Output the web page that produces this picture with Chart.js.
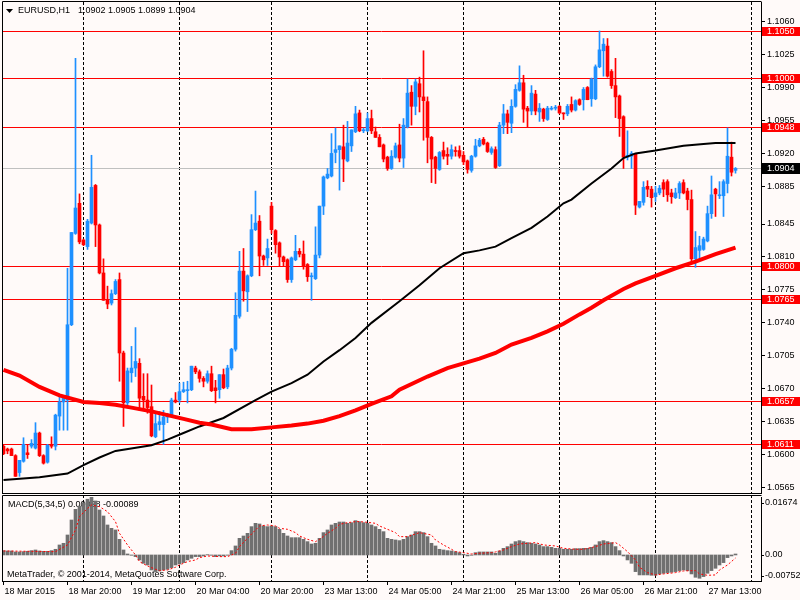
<!DOCTYPE html>
<html>
<head>
<meta charset="utf-8">
<script src="https://cdn.jsdelivr.net/npm/chart.js@4/dist/chart.umd.min.js"></script>
<style>
    html, body { margin: 0; padding: 0; background: #fffaf9; }
    #wrap { position: relative; width: 800px; height: 600px; overflow: hidden; }
    canvas { position: absolute; left: 0; }
    #main { top: 0; }
    #macd { top: 494px; }
</style>
</head>
<body>
<div id="wrap">
    <canvas id="main" width="800" height="494"></canvas>
    <canvas id="macd" width="800" height="106"></canvas>
</div>
<script>
// EURUSD H1, 184 bars (18 Mar 04:00 .. 27 Mar 16:00)
const open = [
    1.0609,1.0606,1.0606,1.0599,1.0581,1.0593,1.0602,1.0609,1.0607,1.0623,
    1.0599,1.0592,1.0610,1.0609,1.0641,1.0656,1.0658,1.0738,1.0835,1.0867,
    1.0828,1.0821,1.0846,1.0886,1.0844,1.0793,1.0765,1.0761,1.0771,1.0786,
    1.0708,1.0655,1.0687,1.0692,1.0697,1.0662,1.0658,1.0651,1.0619,1.0632,
    1.0632,1.0640,1.0642,1.0658,1.0658,1.0667,1.0668,1.0669,1.0692,1.0688,
    1.0681,1.0678,1.0686,1.0671,1.0669,1.0685,1.0672,1.0692,1.0712,1.0747,
    1.0795,1.0773,1.0790,1.0839,1.0848,1.0811,1.0809,1.0864,1.0838,1.0825,
    1.0810,1.0807,1.0786,1.0807,1.0816,1.0813,1.0802,1.0789,1.0787,1.0812,
    1.0864,1.0894,1.0896,1.0921,1.0924,1.0927,1.0912,1.0928,1.0943,1.0963,
    1.0944,1.0944,1.0957,1.0943,1.0937,1.0929,1.0916,1.0904,1.0916,1.0929,
    1.0915,1.0948,1.0985,1.0970,1.0994,1.0980,1.0975,1.0937,1.0916,1.0903,
    1.0923,1.0919,1.0917,1.0923,1.0923,1.0918,1.0912,1.0902,1.0917,1.0928,
    1.0935,1.0931,1.0921,1.0924,1.0907,1.0950,1.0962,1.0952,1.0970,1.0987,
    1.0995,1.0968,1.0965,1.0983,1.0964,1.0967,1.0956,1.0967,1.0968,1.0970,
    1.0963,1.0962,1.0972,1.0966,1.0977,1.0977,1.0990,1.0978,1.0978,1.1012,
    1.1029,1.1034,1.1007,1.0992,1.0981,1.0959,1.0916,1.0917,1.0919,1.0863,
    1.0868,1.0885,1.0882,1.0874,1.0878,1.0889,1.0890,1.0878,1.0873,1.0878,
    1.0889,1.0880,1.0871,1.0808,1.0817,1.0818,1.0827,1.0856,1.0882,1.0875,
    1.0875,1.0888,1.0916,1.0902
];
const high = [
    1.0610,1.0607,1.0607,1.0600,1.0594,1.0618,1.0610,1.0616,1.0634,1.0624,
    1.0600,1.0611,1.0619,1.0643,1.0663,1.0661,1.0798,1.0836,1.1021,1.0877,
    1.0829,1.0850,1.0918,1.0887,1.0845,1.0808,1.0779,1.0775,1.0786,1.0793,
    1.0710,1.0692,1.0715,1.0735,1.0702,1.0686,1.0686,1.0674,1.0646,1.0646,
    1.0647,1.0644,1.0660,1.0666,1.0676,1.0677,1.0678,1.0694,1.0694,1.0690,
    1.0683,1.0689,1.0694,1.0679,1.0685,1.0691,1.0695,1.0713,1.0772,1.0816,
    1.0819,1.0791,1.0855,1.0880,1.0854,1.0812,1.0829,1.0868,1.0839,1.0826,
    1.0811,1.0808,1.0810,1.0833,1.0819,1.0827,1.0803,1.0793,1.0842,1.0864,
    1.0896,1.0904,1.0941,1.0947,1.0928,1.0950,1.0954,1.0945,1.0970,1.0966,
    1.0947,1.0963,1.0966,1.0948,1.0940,1.0930,1.0917,1.0923,1.0931,1.0951,
    1.0957,1.0999,1.0992,1.0999,1.1001,1.1029,1.0980,1.0938,1.0917,1.0922,
    1.0932,1.0926,1.0929,1.0927,1.0928,1.0922,1.0913,1.0918,1.0935,1.0936,
    1.0937,1.0932,1.0927,1.0927,1.0953,1.0972,1.0966,1.0977,1.0993,1.1013,
    1.1003,1.0970,1.0992,1.0987,1.0973,1.0968,1.0970,1.0970,1.0971,1.0971,
    1.0963,1.0972,1.0980,1.0977,1.0978,1.0990,1.0991,1.1000,1.1014,1.1050,
    1.1042,1.1042,1.1009,1.1021,1.0982,1.0960,1.0944,1.0922,1.0920,1.0869,
    1.0890,1.0891,1.0885,1.0885,1.0886,1.0892,1.0892,1.0882,1.0883,1.0890,
    1.0892,1.0883,1.0881,1.0837,1.0832,1.0831,1.0864,1.0896,1.0883,1.0890,
    1.0892,1.0947,1.0932,1.0905
];
const low = [
    1.0600,1.0601,1.0599,1.0577,1.0577,1.0592,1.0596,1.0607,1.0606,1.0598,
    1.0590,1.0591,1.0607,1.0605,1.0626,1.0626,1.0626,1.0737,1.0834,1.0824,
    1.0822,1.0818,1.0845,1.0821,1.0792,1.0764,1.0755,1.0759,1.0770,1.0678,
    1.0630,1.0650,1.0677,1.0683,1.0647,1.0647,1.0644,1.0619,1.0618,1.0626,
    1.0611,1.0634,1.0641,1.0655,1.0655,1.0666,1.0655,1.0668,1.0686,1.0677,
    1.0672,1.0676,1.0667,1.0655,1.0660,1.0670,1.0670,1.0690,1.0710,1.0745,
    1.0763,1.0752,1.0789,1.0838,1.0790,1.0801,1.0801,1.0835,1.0814,1.0800,
    1.0800,1.0783,1.0783,1.0806,1.0810,1.0797,1.0784,1.0764,1.0786,1.0809,
    1.0855,1.0893,1.0895,1.0910,1.0881,1.0890,1.0911,1.0922,1.0942,1.0943,
    1.0942,1.0943,1.0941,1.0937,1.0927,1.0911,1.0902,1.0903,1.0915,1.0911,
    1.0905,1.0947,1.0950,1.0961,1.0964,1.0934,1.0910,1.0889,1.0888,1.0902,
    1.0914,1.0908,1.0914,1.0917,1.0915,1.0908,1.0899,1.0900,1.0916,1.0927,
    1.0929,1.0921,1.0919,1.0904,1.0906,1.0941,1.0941,1.0942,1.0969,1.0986,
    1.0953,1.0948,1.0961,1.0961,1.0954,1.0954,1.0955,1.0966,1.0966,1.0962,
    1.0956,1.0960,1.0964,1.0965,1.0971,1.0966,1.0977,1.0970,1.0977,1.1011,
    1.1002,1.1001,1.0989,1.0958,1.0938,1.0904,1.0913,1.0904,1.0855,1.0862,
    1.0865,1.0874,1.0863,1.0869,1.0876,1.0874,1.0869,1.0867,1.0872,1.0872,
    1.0877,1.0860,1.0805,1.0799,1.0807,1.0817,1.0826,1.0851,1.0853,1.0872,
    1.0853,1.0878,1.0896,1.0899
];
const close = [
    1.0601,1.0604,1.0599,1.0577,1.0594,1.0611,1.0600,1.0612,1.0623,1.0599,
    1.0591,1.0610,1.0609,1.0642,1.0656,1.0660,1.0738,1.0836,1.0862,1.0826,
    1.0823,1.0848,1.0884,1.0844,1.0793,1.0764,1.0760,1.0771,1.0784,1.0708,
    1.0655,1.0689,1.0692,1.0699,1.0660,1.0658,1.0650,1.0620,1.0633,1.0635,
    1.0640,1.0643,1.0658,1.0656,1.0667,1.0669,1.0669,1.0694,1.0688,1.0681,
    1.0678,1.0686,1.0668,1.0668,1.0685,1.0671,1.0692,1.0712,1.0748,1.0795,
    1.0774,1.0790,1.0839,1.0846,1.0811,1.0807,1.0819,1.0839,1.0823,1.0810,
    1.0805,1.0786,1.0809,1.0816,1.0813,1.0800,1.0789,1.0790,1.0812,1.0864,
    1.0895,1.0898,1.0920,1.0924,1.0928,1.0914,1.0931,1.0945,1.0962,1.0944,
    1.0945,1.0957,1.0944,1.0937,1.0927,1.0914,1.0904,1.0917,1.0928,1.0915,
    1.0950,1.0984,1.0970,1.0996,1.0980,1.0976,1.0937,1.0914,1.0904,1.0921,
    1.0917,1.0917,1.0924,1.0922,1.0917,1.0911,1.0903,1.0917,1.0928,1.0934,
    1.0930,1.0922,1.0925,1.0905,1.0950,1.0962,1.0953,1.0970,1.0988,1.0995,
    1.0967,1.0965,1.0984,1.0965,1.0968,1.0957,1.0968,1.0968,1.0969,1.0963,
    1.0962,1.0970,1.0966,1.0976,1.0972,1.0988,1.0977,1.0999,1.1012,1.1030,
    1.1036,1.1002,1.0992,1.0980,1.0957,1.0916,1.0918,1.0920,1.0865,1.0869,
    1.0884,1.0882,1.0873,1.0878,1.0883,1.0882,1.0876,1.0874,1.0878,1.0888,
    1.0878,1.0871,1.0808,1.0820,1.0822,1.0829,1.0856,1.0876,1.0877,1.0876,
    1.0890,1.0917,1.0900,1.0904
];

// moving averages, read at these bar indices
const blackMaBars = [0,9,16,20,24,28,37,41,45,49,55,63,67,72,76,80,84,88,92,99,104,109,115,119,123,127,132,136,140,142,147,152,155,158,163,170,175,178,183];
const blackMa = [1.0573,1.0576,1.0580,1.0589,1.0597,1.0604,1.0610,1.0616,1.0623,1.0630,1.0639,1.0658,1.0667,1.0676,1.0685,1.0699,1.0711,1.0724,1.0740,1.0763,1.0780,1.0798,1.0814,1.0817,1.0821,1.0830,1.0841,1.0853,1.0867,1.0871,1.0888,1.0904,1.0915,1.0920,1.0923,1.0928,1.0930,1.0931,1.0931];
const redMaBars = [0,4,9,14,20,24,28,32,37,41,45,49,52,57,62,67,72,76,80,84,88,92,97,99,106,111,115,119,123,127,132,136,140,144,147,150,155,158,163,168,173,178,183];
const redMa = [1.0690,1.0684,1.0672,1.0663,1.0656,1.0655,1.0653,1.0650,1.0646,1.0642,1.0638,1.0634,1.0632,1.0627,1.0627,1.0629,1.0631,1.0633,1.0636,1.0641,1.0647,1.0654,1.0662,1.0669,1.0683,1.0692,1.0697,1.0702,1.0708,1.0717,1.0724,1.0731,1.0739,1.0749,1.0756,1.0764,1.0776,1.0782,1.0790,1.0798,1.0805,1.0813,1.0820];

// MACD(5,34,5)
const macdHist = [
    0.00125,0.00115,0.00115,0.00087,0.00087,0.00096,0.00106,0.00125,0.00144,0.00115,
    0.00106,0.00106,0.00125,0.00164,0.00289,0.00337,0.00577,0.01010,0.01318,0.01414,
    0.01510,0.01610,0.01674,0.01560,0.01299,0.01126,0.00866,0.00770,0.00722,0.00452,
    0.00144,0.00029,-0.00010,-0.00048,-0.00144,-0.00241,-0.00289,-0.00433,-0.00481,-0.00462,
    -0.00433,-0.00414,-0.00366,-0.00289,-0.00260,-0.00221,-0.00144,-0.00096,-0.00048,-0.00048,
    -0.00029,0.00010,-0.00010,-0.00048,-0.00029,-0.00029,-0.00010,0.00125,0.00260,0.00481,
    0.00548,0.00625,0.00818,0.00914,0.00895,0.00837,0.00818,0.00837,0.00818,0.00741,
    0.00625,0.00548,0.00500,0.00500,0.00500,0.00452,0.00385,0.00317,0.00337,0.00481,
    0.00645,0.00722,0.00866,0.00914,0.00952,0.00952,0.00914,0.00933,0.00991,0.00962,
    0.00933,0.00914,0.00866,0.00818,0.00741,0.00673,0.00481,0.00452,0.00433,0.00414,
    0.00452,0.00529,0.00577,0.00673,0.00673,0.00645,0.00529,0.00337,0.00260,0.00164,
    0.00144,0.00125,0.00115,0.00096,0.00067,0.00019,-0.00029,-0.00010,0.00067,0.00087,
    0.00087,0.00087,0.00087,0.00048,0.00115,0.00192,0.00241,0.00317,0.00385,0.00414,
    0.00385,0.00356,0.00337,0.00317,0.00289,0.00241,0.00241,0.00221,0.00192,0.00192,
    0.00164,0.00164,0.00164,0.00183,0.00183,0.00192,0.00192,0.00221,0.00289,0.00385,
    0.00414,0.00385,0.00356,0.00241,0.00125,-0.00029,-0.00144,-0.00241,-0.00481,-0.00577,
    -0.00577,-0.00577,-0.00587,-0.00587,-0.00548,-0.00529,-0.00510,-0.00500,-0.00481,-0.00452,
    -0.00433,-0.00452,-0.00548,-0.00645,-0.00673,-0.00625,-0.00529,-0.00452,-0.00385,-0.00289,
    -0.00221,-0.00077,-0.00029,0.00028
];
const signalBars = [0,13,16,18,19,21,22,24,26,28,29,31,33,34,36,38,39,41,43,44,46,48,49,51,54,56,58,59,61,63,64,66,68,69,71,73,74,76,78,79,81,83,84,86,88,89,91,93,94,96,98,99,101,104,107,108,110,112,113,115,117,119,122,123,125,127,129,133,135,138,140,143,145,148,150,153,154,156,158,159,161,163,165,168,170,173,174,176,178,179,181,183];
const signal = [0.00115,0.00096,0.00289,0.00722,0.01106,0.01347,0.01443,0.01395,0.01251,0.00962,0.00625,0.00289,0.00000,-0.00192,-0.00317,-0.00414,-0.00452,-0.00433,-0.00356,-0.00289,-0.00192,-0.00144,-0.00077,-0.00029,-0.00048,-0.00048,0.00048,0.00241,0.00481,0.00722,0.00837,0.00866,0.00837,0.00770,0.00741,0.00645,0.00548,0.00452,0.00385,0.00452,0.00625,0.00770,0.00885,0.00933,0.00962,0.00962,0.00943,0.00914,0.00837,0.00741,0.00645,0.00529,0.00529,0.00645,0.00577,0.00433,0.00289,0.00164,0.00096,0.00067,0.00029,0.00048,0.00067,0.00087,0.00144,0.00241,0.00317,0.00356,0.00289,0.00260,0.00192,0.00164,0.00164,0.00241,0.00317,0.00356,0.00289,0.00096,-0.00144,-0.00356,-0.00510,-0.00577,-0.00548,-0.00510,-0.00462,-0.00452,-0.00548,-0.00587,-0.00577,-0.00433,-0.00289,-0.00089];

const priceTicks = [1.1060,1.1025,1.0990,1.0955,1.0920,1.0885,1.0845,1.0810,1.0775,1.0740,1.0705,1.0670,1.0635,1.0600,1.0565];
const levels = [1.1050,1.1000,1.0948,1.0800,1.0765,1.0657,1.0611];
const macdTicks = [0.01674, 0, -0.00752];
const timeLabels = ["18 Mar 2015","18 Mar 20:00","19 Mar 12:00","20 Mar 04:00","20 Mar 20:00","23 Mar 13:00","24 Mar 05:00","24 Mar 21:00","25 Mar 13:00","26 Mar 05:00","26 Mar 21:00","27 Mar 13:00"];
const labelBars = [0,16,32,48,64,80,96,112,128,144,160,176];
const dayBars = [20,44,67,91,115,139,163,187];

const FONT = '9px "Liberation Sans", Arial, sans-serif';
const BULL = "#1e90ff";
const BEAR = "#ff0000";
const last = close.length - 1;

Chart.defaults.font.family = '"Liberation Sans", Arial, sans-serif';
Chart.defaults.font.size = 9;
Chart.defaults.color = "#000";

const xRange = { min: -0.375, max: 189.375 };

// chart.js reserves room for edge tick labels; the terminal doesn't
function noEdgePadding(s) {
    s.paddingTop = 0;
    s.paddingBottom = 0;
    s.paddingLeft = 0;
    s.paddingRight = 0;
}

function dayLines(chart, top, bottom) {
    const { ctx, scales: { x } } = chart;
    ctx.save();
    ctx.strokeStyle = "#000";
    ctx.lineWidth = 1;
    ctx.setLineDash([3, 2]);
    dayBars.forEach(b => {
        const px = Math.floor(x.getPixelForValue(b)) + 0.5;
        ctx.beginPath();
        ctx.moveTo(px, top);
        ctx.lineTo(px, bottom);
        ctx.stroke();
    });
    ctx.restore();
}

const mainDecor = {
    id: "mainDecor",
    beforeDatasetsDraw(chart) {
        const { ctx, chartArea: a, scales: { y } } = chart;
        dayLines(chart, a.top, a.bottom);
        ctx.save();
        ctx.lineWidth = 1;
        ctx.strokeStyle = "#c0c0c0";
        let py = Math.round(y.getPixelForValue(close[last])) + 0.5;
        ctx.beginPath(); ctx.moveTo(a.left, py); ctx.lineTo(a.right, py); ctx.stroke();
        ctx.strokeStyle = "#ff0000";
        levels.forEach(v => {
            py = Math.round(y.getPixelForValue(v)) + 0.5;
            ctx.beginPath(); ctx.moveTo(a.left, py); ctx.lineTo(a.right, py); ctx.stroke();
        });
        ctx.restore();
    },
    afterDraw(chart) {
        const { ctx, chartArea: a, scales: { y } } = chart;
        ctx.save();
        ctx.strokeStyle = "#000";
        ctx.lineWidth = 1;
        ctx.beginPath();
        ctx.moveTo(a.left + 0.5, a.bottom + 0.5);
        ctx.lineTo(a.left + 0.5, a.top - 0.5);
        ctx.lineTo(a.right + 0.5, a.top - 0.5);
        ctx.moveTo(a.left, a.bottom + 0.5);
        ctx.lineTo(a.right + 1, a.bottom + 0.5);
        ctx.stroke();

        ctx.font = FONT;
        ctx.textBaseline = "middle";
        levels.forEach(v => {
            const py = Math.round(y.getPixelForValue(v));
            ctx.fillStyle = "#ff0000";
            ctx.fillRect(a.right + 1, py - 4, 800 - a.right - 1, 9);
            ctx.fillStyle = "#fff";
            ctx.fillText(v.toFixed(4), a.right + 6, py + 0.5);
        });
        const pc = Math.round(y.getPixelForValue(close[last]));
        ctx.fillStyle = "#000";
        ctx.fillRect(a.right + 1, pc - 5, 800 - a.right - 1, 11);
        ctx.fillStyle = "#fff";
        ctx.fillText(close[last].toFixed(4), a.right + 6, pc + 0.5);

        // header
        ctx.fillStyle = "#000";
        ctx.beginPath();
        ctx.moveTo(a.left + 4, a.top + 7);
        ctx.lineTo(a.left + 11, a.top + 7);
        ctx.lineTo(a.left + 7.5, a.top + 11);
        ctx.closePath();
        ctx.fill();
        ctx.fillText("EURUSD,H1", a.left + 16, a.top + 9);
        ctx.fillText([open[last], high[last], low[last], close[last]].map(v => v.toFixed(4)).join(" "), a.left + 76, a.top + 9);
        ctx.restore();
    }
};

const macdDecor = {
    id: "macdDecor",
    beforeDatasetsDraw(chart) {
        const { ctx, chartArea: a } = chart;
        dayLines(chart, a.top - 2, a.bottom);
        ctx.save();
        ctx.font = FONT;
        ctx.fillStyle = "#000";
        ctx.textBaseline = "middle";
        ctx.fillText(`MACD(5,34,5) ${macdHist[last].toFixed(5)} ${signal[signal.length - 1].toFixed(5)}`, a.left + 6, a.top + 8);
        ctx.fillText("MetaTrader, \u00a9 2001-2014, MetaQuotes Software Corp.", a.left + 5, a.bottom - 6);
        ctx.restore();
    },
    afterDraw(chart) {
        const { ctx, chartArea: a, scales: { y } } = chart;
        ctx.save();
        ctx.strokeStyle = "#000";
        ctx.lineWidth = 1;
        ctx.beginPath();
        ctx.moveTo(a.left + 0.5, a.bottom + 0.5);
        ctx.lineTo(a.left + 0.5, a.top - 1.5);
        ctx.lineTo(a.right + 0.5, a.top - 1.5);
        ctx.stroke();
        ctx.font = FONT;
        ctx.fillStyle = "#000";
        ctx.textBaseline = "middle";
        macdTicks.forEach(v => {
            const py = Math.min(Math.max(y.getPixelForValue(v), a.top + 6), a.bottom - 5);
            ctx.beginPath();
            ctx.moveTo(a.right, Math.round(py) + 0.5);
            ctx.lineTo(a.right + 3, Math.round(py) + 0.5);
            ctx.stroke();
            ctx.fillText(v === 0 ? "0.00" : v.toFixed(5), a.right + 4, py);
        });
        ctx.restore();
    }
};

new Chart(document.getElementById("main"), {
    type: "bar",
    data: {
        datasets: [
            {
                type: "line",
                data: redMaBars.map((b, i) => ({ x: b, y: redMa[i] })),
                borderColor: "#ff0000",
                borderWidth: 4,
                pointRadius: 0,
                order: 0
            },
            {
                type: "line",
                data: blackMaBars.map((b, i) => ({ x: b, y: blackMa[i] })),
                borderColor: "#000",
                borderWidth: 2,
                pointRadius: 0,
                order: 1
            },
            {
                data: open.map((o, i) => ({ x: i, y: [o, close[i]] })),
                backgroundColor: open.map((o, i) => close[i] >= o ? BULL : BEAR),
                barThickness: 3,
                minBarLength: 1,
                grouped: false,
                order: 2
            },
            {
                data: low.map((l, i) => ({ x: i, y: [l, high[i]] })),
                backgroundColor: open.map((o, i) => close[i] >= o ? BULL : BEAR),
                barThickness: 1,
                grouped: false,
                order: 3
            }
        ]
    },
    options: {
        responsive: false,
        animation: false,
        layout: { padding: { left: 2, top: 2, right: 0, bottom: 1 } },
        plugins: { legend: { display: false }, tooltip: { enabled: false } },
        scales: {
            x: { type: "linear", ...xRange, display: false, offset: false, grid: { offset: false } },
            y: {
                position: "right",
                min: 1.05593,
                max: 1.10808,
                afterFit: s => { s.width = 39; noEdgePadding(s); },
                afterBuildTicks: s => { s.ticks = priceTicks.map(v => ({ value: v })); },
                ticks: { autoSkip: false, padding: 2, color: "#000", callback: v => v.toFixed(4) },
                grid: { drawOnChartArea: false, drawTicks: true, tickLength: 4, color: "#000" },
                border: { display: true, color: "#000" }
            }
        }
    },
    plugins: [mainDecor]
});

new Chart(document.getElementById("macd"), {
    type: "bar",
    data: {
        datasets: [
            {
                type: "line",
                data: signalBars.map((b, i) => ({ x: b, y: signal[i] })),
                borderColor: "#ff0000",
                borderWidth: 1,
                borderDash: [2, 2],
                pointRadius: 0,
                order: 0
            },
            {
                data: macdHist.map((v, i) => ({ x: i, y: v })),
                backgroundColor: "#707070",
                barThickness: 3,
                grouped: false,
                order: 1
            }
        ]
    },
    options: {
        responsive: false,
        animation: false,
        layout: { padding: { left: 2, top: 3, right: 0, bottom: 0 } },
        plugins: { legend: { display: false }, tooltip: { enabled: false } },
        scales: {
            x: {
                type: "linear",
                ...xRange,
                offset: false,
                position: "bottom",
                afterFit: s => { s.height = 19; noEdgePadding(s); },
                afterBuildTicks: s => { s.ticks = labelBars.map(v => ({ value: v })); },
                ticks: {
                    autoSkip: false, maxRotation: 0, minRotation: 0, align: "start",
                    labelOffset: 1, padding: 1, color: "#000",
                    callback: (v, i) => timeLabels[i]
                },
                grid: { drawOnChartArea: false, drawTicks: true, tickLength: 4, color: "#000", offset: false },
                border: { display: true, color: "#000" }
            },
            y: {
                position: "right",
                min: -0.00752,
                max: 0.01674,
                afterFit: s => { s.width = 39; noEdgePadding(s); },
                ticks: { display: false },
                grid: { display: false },
                border: { display: true, color: "#000" }
            }
        }
    },
    plugins: [macdDecor]
});
</script>
</body>
</html>
